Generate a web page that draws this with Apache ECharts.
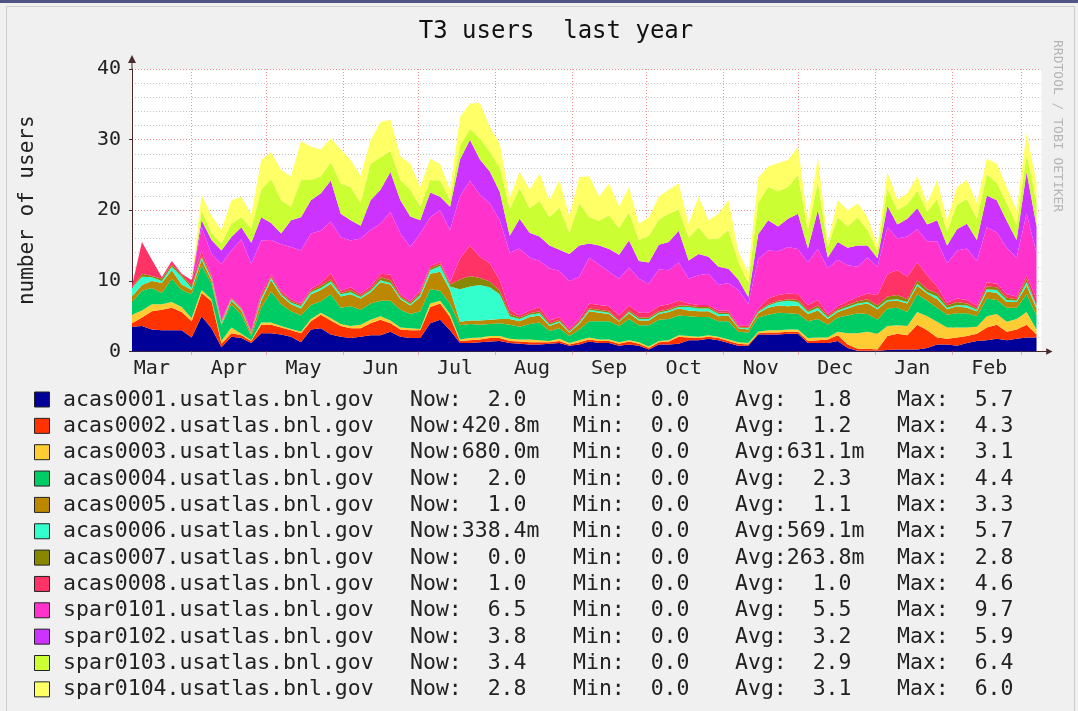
<!DOCTYPE html>
<html>
<head>
<meta charset="utf-8">
<title>T3 users last year</title>
<script src="https://cdn.jsdelivr.net/npm/echarts@6/dist/echarts.min.js"></script>
<style>
  html, body { margin: 0; padding: 0; background: #f0f0f0; }
  #chart { width: 1078px; height: 711px; }
</style>
</head>
<body>
<div id="chart"></div>
<script>
// one sample every 4 days, day 0 = Mar 8
const STEP = 4

const hosts = [
  'acas0001.usatlas.bnl.gov', 'acas0002.usatlas.bnl.gov', 'acas0003.usatlas.bnl.gov',
  'acas0004.usatlas.bnl.gov', 'acas0005.usatlas.bnl.gov', 'acas0006.usatlas.bnl.gov',
  'acas0007.usatlas.bnl.gov', 'acas0008.usatlas.bnl.gov', 'spar0101.usatlas.bnl.gov',
  'spar0102.usatlas.bnl.gov', 'spar0103.usatlas.bnl.gov', 'spar0104.usatlas.bnl.gov'
]
const hostColors = [
  '#000099', '#ff3300', '#ffcc33', '#00cc66', '#bb8800', '#33ffcc',
  '#888800', '#ff3366', '#ff33cc', '#cc33ff', '#ccff33', '#ffff66'
]

// legend statistics
const nowText = ['  2.0', '420.8m', '680.0m', '  2.0', '  1.0', '338.4m', '  0.0', '  1.0', '  6.5', '  3.8', '  3.4', '  2.8']
const minText = ['  0.0', '  0.0', '  0.0', '  0.0', '  0.0', '  0.0', '  0.0', '  0.0', '  0.0', '  0.0', '  0.0', '  0.0']
const avgText = ['  1.8', '  1.2', '631.1m', '  2.3', '  1.1', '569.1m', '263.8m', '  1.0', '  5.5', '  3.2', '  2.9', '  3.1']
const maxText = ['  5.7', '  4.3', '  3.1', '  4.4', '  3.3', '  5.7', '  2.8', '  4.6', '  9.7', '  5.9', '  6.4', '  6.0']

// month starts (grid lines) and mid-month label positions, in days
const monthStartDays = [24, 54, 85, 115, 146, 177, 207, 238, 268, 299, 330, 358]
const monthLabelDays = [8, 39, 69, 100, 130, 161, 192, 222, 253, 283, 314, 345]
const monthNames = ['Mar', 'Apr', 'May', 'Jun', 'Jul', 'Aug', 'Sep', 'Oct', 'Nov', 'Dec', 'Jan', 'Feb']

// users per host, stacked bottom to top
const acas0001 = [3.5,3.6,3.1,3.0,3.0,3.0,2.0,5.0,3.3,0.6, 2.1,1.9,1.2,2.6,2.6,2.4,2.1,1.3,3.1,3.3,
  2.4,2.1,1.9,2.1,2.3,2.3,2.8,2.1,1.9,1.9, 4.0,4.5,3.0,1.2,1.2,1.3,1.4,1.5,1.2,1.1,
  1.0,1.0,1.1,1.2,0.8,1.0,1.4,1.2,1.2,0.8, 1.0,0.8,0.3,1.0,1.0,1.1,1.6,1.6,1.8,1.6,
  1.2,0.8,0.8,2.4,2.4,2.4,2.5,2.5,1.2,1.2, 1.2,1.5,0.5,0.1,0.1,0.1,0.2,0.3,0.3,0.3,
  0.5,1.0,1.0,0.8,1.2,1.5,1.6,1.8,1.6,1.8, 2.0,2.0]
const acas0002 = [0.5,1.2,2.6,2.9,3.2,2.6,2.3,3.3,3.8,0.5, 0.5,0.4,0.3,1.2,1.2,1.0,0.9,1.3,1.2,1.9,
  2.0,1.5,1.4,1.2,1.7,2.2,1.2,1.0,1.1,1.1, 2.3,2.3,1.9,0.3,0.4,0.4,0.5,0.4,0.3,0.3,
  0.3,0.3,0.2,0.3,0.2,0.3,0.3,0.3,0.3,0.3, 0.4,0.3,0.2,0.3,0.4,1.0,0.4,0.3,0.3,0.3,
  0.3,0.3,0.2,0.2,0.3,0.3,0.3,0.3,0.3,0.4, 0.5,0.8,0.5,0.3,0.3,0.2,2.0,2.2,2.0,3.5,
  2.5,1.0,0.8,1.2,1.0,1.0,1.8,2.0,1.2,1.3, 1.8,0.42]
const acas0003 = [1.2,1.0,1.0,0.8,0.8,0.7,0.4,0.4,0.3,0.4, 0.8,0.2,0.1,0.3,0.3,0.2,0.2,0.2,0.3,0.3,
  0.3,0.3,0.3,0.5,0.5,0.5,0.4,0.3,0.3,0.2, 0.5,0.4,0.4,0.2,0.3,0.3,0.3,0.3,0.3,0.3,
  0.4,0.3,0.2,0.3,0.2,0.3,0.3,0.2,0.2,0.2, 0.2,0.2,0.2,0.2,0.2,0.2,0.2,0.2,0.2,0.2,
  0.2,0.2,0.2,0.2,0.3,0.3,0.3,0.3,0.4,0.4, 0.3,0.5,1.6,2.2,2.4,2.2,1.4,1.2,1.3,1.8,
  2.0,2.2,1.6,1.4,1.2,1.0,1.6,1.5,1.4,1.5, 1.8,0.68]
const acas0004 = [1.8,2.8,2.3,1.6,3.3,2.4,3.4,3.5,2.2,2.2, 3.3,2.7,0.6,2.1,4.4,3.1,2.5,2.3,2.0,1.6,
  3.4,2.3,2.8,2.1,2.3,2.2,2.8,2.5,2.0,2.5, 2.0,1.4,1.5,2.0,2.0,1.8,1.7,1.8,2.0,1.8,
  2.2,2.5,1.4,1.5,1.0,1.5,2.3,2.6,2.6,2.3, 3.0,2.4,3.0,3.0,3.0,2.8,2.8,2.8,2.6,2.2,
  2.6,1.5,1.5,2.0,2.2,2.5,2.3,2.2,2.4,2.6, 1.8,2.0,2.5,2.8,2.5,2.0,2.5,2.5,2.0,2.5,
  2.2,2.0,1.8,2.0,2.0,1.5,2.5,2.0,2.0,1.6, 2.5,2.0]
const acas0005 = [0.8,0.8,1.0,1.4,1.2,0.8,0.6,0.8,0.5,0.2, 0.5,0.6,0.3,1.0,1.6,1.2,1.0,1.0,1.5,1.6,
  1.5,1.6,1.7,1.6,1.6,2.6,2.3,1.5,1.2,2.0, 2.2,2.7,1.9,0.5,0.5,0.6,0.6,0.6,0.8,0.8,
  1.0,1.0,0.7,0.8,0.5,0.8,1.4,1.2,1.0,0.6, 0.8,0.7,0.7,0.8,1.0,1.0,0.8,0.8,0.8,0.7,
  0.8,0.5,0.4,0.6,1.0,1.0,1.0,1.2,1.0,1.2, 0.8,0.8,1.0,1.2,1.5,1.5,1.0,1.0,1.2,1.2,
  1.0,1.2,0.8,1.0,0.8,0.7,1.0,1.0,0.8,0.8, 1.2,1.0]
const acas0006 = [1.2,1.2,0.5,0.3,0.5,1.1,0.3,0.3,0.2,0.2, 0.2,0.2,0.1,0.3,0.3,0.2,0.2,0.3,0.3,0.3,
  0.3,0.3,0.3,0.2,0.2,0.3,0.2,0.2,0.2,0.3, 0.5,0.8,0.5,4.6,4.8,5.0,4.6,3.5,0.4,0.3,
  0.3,0.3,0.2,0.2,0.1,0.2,0.2,0.2,0.2,0.1, 0.2,0.2,0.2,0.2,0.2,0.2,0.5,0.4,0.4,0.3,
  0.2,0.1,0.2,0.2,0.3,0.5,0.8,0.5,0.3,0.4, 0.2,0.2,0.2,0.2,0.2,0.2,0.2,0.2,0.2,0.3,
  0.2,0.4,0.2,0.2,0.3,0.2,0.3,0.4,0.3,0.2, 0.5,0.34]
const acas0007 = [0.0,0.4,0.2,0.3,0.3,0.2,0.3,0.3,0.2,0.1, 0.1,0.1,0.1,0.3,0.2,0.2,0.2,0.2,0.2,0.3,
  0.3,0.2,0.3,0.2,0.2,0.4,0.4,0.2,0.2,0.3, 0.3,0.3,0.3,1.4,1.5,1.0,0.8,0.5,0.3,0.2,
  0.2,0.3,0.2,0.2,0.1,0.2,0.2,0.2,0.2,0.1, 0.2,0.2,0.2,0.2,0.2,0.2,0.2,0.2,0.2,0.2,
  0.2,0.1,0.1,0.1,0.2,0.2,0.2,0.3,0.2,0.3, 0.2,0.2,0.3,0.3,0.4,0.3,0.5,0.6,0.4,0.5,
  0.4,0.4,0.3,0.4,0.3,0.2,0.4,0.4,0.3,0.2, 0.5,0.0]
const acas0008 = [0.3,4.5,2.3,0.2,0.5,0.2,0.8,0.6,0.3,0.2, 0.2,0.2,0.2,0.4,0.3,0.3,0.3,0.2,0.3,0.4,
  0.9,0.3,0.4,0.3,0.4,0.5,0.8,0.3,0.3,0.3, 0.3,0.3,0.3,3.0,4.3,3.0,2.6,1.5,0.6,0.3,
  0.4,0.6,0.4,0.4,0.3,0.3,0.7,0.7,0.7,0.7, 0.7,0.7,0.7,0.7,0.7,0.7,0.3,0.3,0.3,0.3,
  0.3,0.2,0.3,0.4,0.8,0.8,0.8,0.8,0.8,0.8, 0.3,0.4,0.5,0.6,0.8,1.5,3.2,3.5,3.2,2.5,
  2.0,1.0,0.4,0.5,0.5,0.4,0.6,0.5,0.5,0.4, 0.5,1.0]
const spar0101 = [0,0,0,0,0,0,0,3.4,3.0,8.0, 6.6,9.6,9.5,7.5,4.9,6.6,7.4,7.5,7.8,7.4,
  7.3,7.6,6.6,7.8,8.0,7.1,8.9,8.6,7.6,8.1, 6.9,7.3,7.4,8.8,9.2,8.8,8.5,8.5,8.1,9.5,
  7.5,6.5,7.4,6.5,6.8,6.0,6.5,5.7,4.9,5.2, 5.4,4.8,4.1,5.2,4.8,5.4,3.5,4.2,4.4,3.6,
  3.9,5.0,3.0,7.0,6.8,6.2,6.6,6.4,6.0,7.2, 6.5,6.6,5.1,4.3,5.1,4.0,6.6,4.5,5.7,4.7,
  4.8,6.4,5.6,6.8,7.3,6.3,7.8,7.3,6.6,5.5, 8.7,6.5]
const spar0102 = [0,0,0,0,0,0,0,1.0,2.0,1.9, 1.9,1.7,3.0,3.3,2.4,1.5,3.8,4.7,4.7,5.3,
  5.8,3.3,2.9,1.8,4.2,4.8,5.6,4.7,4.3,1.9, 3.5,1.9,3.3,5.2,5.8,5.0,4.5,4.0,2.4,4.2,
  3.5,3.5,3.2,3.0,3.8,4.4,2.0,2.7,3.2,3.4, 3.8,2.5,3.0,3.5,4.0,4.5,2.6,3.0,2.4,2.6,
  2.0,1.5,1.0,3.5,4.3,3.5,4.0,5.0,2.0,5.5, 1.5,2.5,2.5,3.0,1.7,1.2,3.0,2.0,2.5,3.0,
  2.4,3.0,2.5,3.0,3.5,3.0,4.5,4.5,3.8,2.5, 5.9,3.8]
const spar0103 = [0,0,0,0,0,0,0,1.4,1.0,1.0, 1.9,1.4,2.0,3.9,6.2,4.7,1.9,5.3,2.9,2.4,
  2.6,4.3,4.7,3.3,5.2,4.6,3.0,2.9,3.8,1.9, 1.8,2.3,1.0,2.0,1.5,3.0,2.8,3.5,3.8,4.3,
  3.5,5.0,4.0,6.0,3.0,6.0,3.7,3.5,4.8,3.8, 4.0,3.0,3.8,3.6,4.0,3.0,3.2,3.8,2.5,4.0,
  5.5,2.5,2.0,4.5,4.7,5.0,4.5,5.5,2.5,4.0, 1.5,3.5,3.0,4.0,2.2,1.0,2.5,2.0,2.0,2.5,
  1.8,3.0,2.0,3.5,3.5,3.0,3.0,2.5,2.5,2.2, 2.5,3.4]
const spar0104 = [0,0,0,0,0,0,0,2.2,2.4,1.9, 3.3,2.9,2.0,4.2,3.8,4.3,4.3,5.5,4.7,3.8,
  3.4,4.8,3.8,3.8,3.3,5.0,4.4,3.3,3.7,2.8, 3.0,2.3,1.4,4.0,3.6,5.0,3.5,3.3,1.5,2.4,
  2.6,3.9,2.4,3.9,2.3,3.7,5.8,3.4,4.5,3.0, 3.6,2.3,2.6,3.2,3.4,3.7,2.0,4.3,2.7,3.5,
  4.2,1.5,1.5,3.5,2.9,4.0,3.8,4.0,1.2,3.5, 0.6,2.4,2.3,2.0,1.8,0.8,2.3,1.5,1.6,2.0,
  1.2,2.7,1.6,2.5,2.7,2.2,2.2,2.7,2.3,2.0, 3.0,2.8]

const hostData = [acas0001, acas0002, acas0003, acas0004, acas0005, acas0006,
  acas0007, acas0008, spar0101, spar0102, spar0103, spar0104]

const FONT = '"DejaVu Sans Mono", monospace'
// arrow head with a short stem, used for both axis ends
const ARROW = 'path://M4,0 L8,8 L4.5,8 L4.5,14 L3.5,14 L3.5,8 L0,8 Z'

const myChart = echarts.init(document.getElementById('chart'))

// value first so that the stack is computed on the y (users) dimension
const series = hostData.map((vals, k) => ({
  name: hosts[k],
  type: 'line',
  stack: 'users',
  symbol: 'none',
  silent: true,
  encode: { x: 1, y: 0 },
  lineStyle: { width: 0 },
  areaStyle: { color: hostColors[k], opacity: 1 },
  data: vals.map((v, i) => [v, i * STEP])
}))

// legend rows drawn by hand (rrdtool style with Now/Min/Avg/Max)
const legendItems = []
hosts.forEach((h, k) => {
  const y = 400 + k * 26.35
  legendItems.push({
    type: 'rect',
    shape: { x: 34.5, y: y - 8, width: 15, height: 15 },
    style: { fill: hostColors[k], stroke: '#222', lineWidth: 1 }
  })
  const cols = [
    [63, h],
    [410, 'Now:' + nowText[k]],
    [573, 'Min:' + minText[k]],
    [735, 'Avg:' + avgText[k]],
    [897, 'Max:' + maxText[k]]
  ]
  cols.forEach(([x, t]) => {
    legendItems.push({
      type: 'text',
      x: x,
      y: y,
      style: { text: t, font: '21.5px ' + FONT, fill: '#222', textVerticalAlign: 'middle' }
    })
  })
})

const option = {
  animation: false,
  backgroundColor: '#f0f0f0',
  textStyle: { fontFamily: FONT },
  grid: {
    left: 132,
    right: 36.5,
    top: 69,
    bottom: 359.5,
    show: true,
    backgroundColor: '#ffffff',
    borderWidth: 0
  },
  xAxis: {
    type: 'value',
    min: 0,
    max: 366,
    axisLine: {
      show: true,
      lineStyle: { color: '#4a2a2a', width: 1 },
      symbol: ['none', ARROW],
      symbolSize: [8, 11],
      symbolOffset: [0, 5.5]
    },
    axisTick: {
      show: true,
      length: 4,
      customValues: monthStartDays,
      lineStyle: { color: '#e07070', type: [1, 1] }
    },
    axisLabel: {
      customValues: monthLabelDays,
      formatter: (v) => monthNames[monthLabelDays.indexOf(Math.round(v))] || '',
      fontSize: 20,
      color: '#222',
      margin: 7,
      fontFamily: FONT
    },
    splitLine: {
      show: true,
      lineStyle: { color: '#f09090', type: [1, 2], width: 1 }
    }
  },
  yAxis: {
    type: 'value',
    min: 0,
    max: 40,
    interval: 10,
    name: 'number of users',
    nameLocation: 'middle',
    nameRotate: 90,
    nameGap: 94,
    nameTextStyle: { fontSize: 21, color: '#222', fontFamily: FONT },
    axisLine: {
      show: true,
      lineStyle: { color: '#4a2a2a', width: 1 },
      symbol: ['none', ARROW],
      symbolSize: [8, 14],
      symbolOffset: [0, 7]
    },
    axisTick: { show: true, length: 3, lineStyle: { color: '#4a2a2a' } },
    axisLabel: { fontSize: 20, color: '#222', margin: 11, fontFamily: FONT },
    splitLine: {
      show: true,
      lineStyle: { color: '#f09090', type: [1, 2], width: 1 }
    },
    minorTick: { show: false, splitNumber: 5 },
    minorSplitLine: {
      show: true,
      lineStyle: { color: '#c4c4c4', type: [1, 2], width: 1 }
    }
  },
  series: series,
  graphic: [
    // frame
    { type: 'rect', shape: { x: 0, y: 0, width: 1078, height: 3 }, style: { fill: '#4f5482' } },
    { type: 'rect', shape: { x: 6.5, y: 6.5, width: 1068, height: 710 },
      style: { fill: 'none', stroke: '#cdcdcd', lineWidth: 1 } },
    {
      type: 'text',
      x: 556,
      y: 32,
      style: {
        text: 'T3 users  last year',
        font: '24px ' + FONT,
        fill: '#111',
        textAlign: 'center',
        textVerticalAlign: 'middle'
      }
    },
    {
      type: 'text',
      x: 1064,
      y: 40,
      rotation: -Math.PI / 2,
      style: { text: 'RRDTOOL / TOBI OETIKER', font: '13px ' + FONT, fill: '#b4b4b4' }
    }
  ].concat(legendItems)
}

option && myChart.setOption(option)
</script>
</body>
</html>
